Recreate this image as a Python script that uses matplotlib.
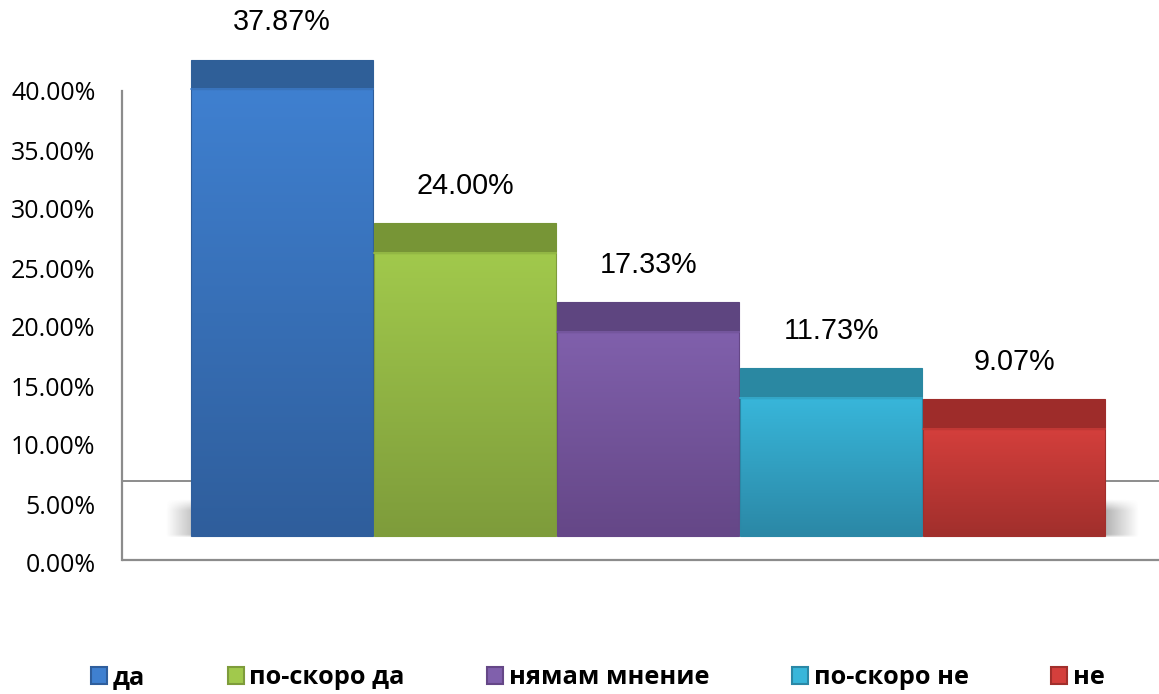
import numpy as np
import matplotlib
matplotlib.use("Agg")
import matplotlib.pyplot as plt
from matplotlib.patches import Rectangle
from matplotlib.colors import to_rgb

categories = ["да", "по-скоро да", "нямам мнение", "по-скоро не", "не"]
values = [37.87, 24.00, 17.33, 11.73, 9.07]
labels = ["37.87%", "24.00%", "17.33%", "11.73%", "9.07%"]
yticks = [0, 5, 10, 15, 20, 25, 30, 35, 40]
ytick_labels = ["0.00%", "5.00%", "10.00%", "15.00%", "20.00%",
                "25.00%", "30.00%", "35.00%", "40.00%"]

# colours: (top face, front light, front dark)
top_cols = ["#2F5F98", "#779536", "#5E4580", "#2A88A2", "#9E2C2A"]
front_light = ["#3F80D0", "#A1C94C", "#8060AC", "#38B6DA", "#D43F3C"]
front_dark = ["#2F5E9C", "#7E9C3B", "#654787", "#2B88A6", "#A12F2C"]

W, H = 1159, 694
fig = plt.figure(figsize=(W / 100, H / 100), dpi=100)
ax = fig.add_axes([122 / W, 0, 1 - 122 / W, 1])

# pixel geometry of the 3d look turned into data units
px_per_pct = 11.8
px_per_cat = 183.1
ax.set_xlim((122 - 282) / px_per_cat, (W - 282) / px_per_cat)
ax.set_ylim((563 - H) / px_per_pct, 563 / px_per_pct)

base = 27 / px_per_pct      # front faces start a bit above 0 %
depth = 2.5                 # height of top face
bar_w = 0.994
floor_front = 3 / px_per_pct
floor_back = 82 / px_per_pct

# floor lines
ax.plot([ax.get_xlim()[0], ax.get_xlim()[1]], [floor_front, floor_front],
        color="#8c8c8c", lw=1.6, zorder=1, solid_capstyle="butt")
ax.plot([ax.get_xlim()[0], ax.get_xlim()[1]], [floor_back, floor_back],
        color="#8c8c8c", lw=1.4, zorder=1, solid_capstyle="butt")

# soft shadow on the floor
sx0, sx1 = (165 - 282) / px_per_cat, (1140 - 282) / px_per_cat
sy0, sy1 = base - 0.1, (563 - 500) / px_per_pct
nx, ny = 400, 60
xx = np.linspace(0, 1, nx)
yy = np.linspace(0, 1, ny)
fx = np.clip(np.minimum(xx, 1 - xx) / 0.05, 0, 1)
fy = np.clip((1 - yy) / 0.3, 0, 1) * np.clip(yy / 0.08 + 0.3, 0, 1)
alpha = np.outer(fy, fx) * 0.75
shadow = np.zeros((ny, nx, 4))
shadow[..., :3] = 0.42
shadow[..., 3] = alpha
ax.imshow(shadow, extent=[sx0, sx1, sy0, sy1], origin="lower",
          aspect="auto", zorder=2, interpolation="bilinear")

x = np.arange(len(values))
for i, v in enumerate(values):
    x0 = x[i] - bar_w / 2
    x1 = x[i] + bar_w / 2
    # front face with vertical gradient
    c0 = np.array(to_rgb(front_dark[i]))
    c1 = np.array(to_rgb(front_light[i]))
    t = np.linspace(0, 1, 100)[:, None]
    grad = (c0 * (1 - t) + c1 * t)[:, None, :]
    ax.imshow(grad, extent=[x0, x1, base, base + v], origin="lower",
              aspect="auto", zorder=3, interpolation="bilinear")
    ax.add_patch(Rectangle((x0, base), bar_w, v, fill=False,
                           edgecolor=front_dark[i], lw=0.8, zorder=4))
    # top face
    ax.add_patch(Rectangle((x0, base + v), bar_w, depth,
                           facecolor=top_cols[i], edgecolor=top_cols[i],
                           lw=0.8, zorder=4))
    ax.plot([x0, x1], [base + v, base + v], color=front_light[i],
            lw=1.2, alpha=0.8, zorder=5)
    ax.text(x[i], base + v + depth + 3.15, labels[i], ha="center",
            va="center", fontsize=20.7, family="Liberation Sans", zorder=6)

# axis
for s in ["top", "right", "bottom"]:
    ax.spines[s].set_visible(False)
ax.spines["left"].set_bounds(floor_front, 40)
ax.spines["left"].set_color("#8c8c8c")
ax.spines["left"].set_linewidth(1.6)
ax.set_xticks([])
ax.set_yticks(yticks)
ax.set_yticklabels(ytick_labels, fontsize=18, family="Open Sans")
ax.tick_params(axis="y", length=0, pad=19)
ax.patch.set_alpha(0)

# legend
handles = [Rectangle((0, 0), 1, 1, facecolor=front_light[i],
                     edgecolor=front_dark[i], lw=1.5) for i in range(len(values))]
fig.legend(handles, categories, loc="center", bbox_to_anchor=(598 / W, 1 - 678 / H),
           ncol=5, frameon=False, handlelength=0.63, handleheight=0.63,
           handletextpad=0.22, columnspacing=3.25,
           prop={"family": "Open Sans", "weight": "bold", "size": 18.3})

fig.savefig("out.png", dpi=100)
